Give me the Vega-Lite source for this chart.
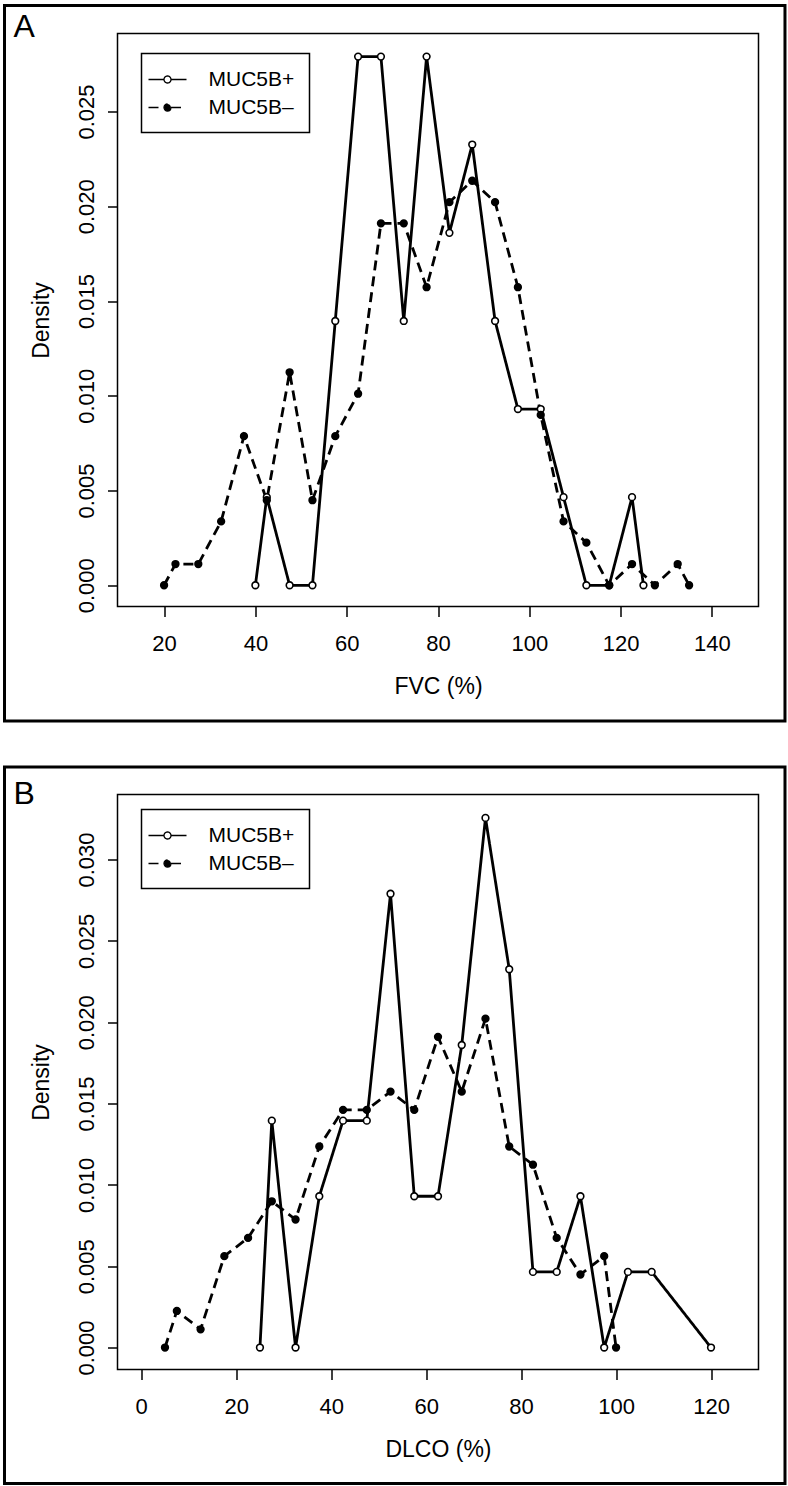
{
  "$schema": "https://vega.github.io/schema/vega-lite/v6.json",
  "background": "white",
  "padding": {"left": 1.5, "top": 2.5, "right": 2, "bottom": 2},
  "autosize": {"type": "pad"},
  "bounds": "flush",
  "spacing": 188,
  "datasets": {
    "fvc": [
      {"pct": 40, "density": 0, "series": "MUC5B+"},
      {"pct": 42.5, "density": 0.00465, "series": "MUC5B+"},
      {"pct": 47.5, "density": 0, "series": "MUC5B+"},
      {"pct": 52.5, "density": 0, "series": "MUC5B+"},
      {"pct": 57.5, "density": 0.01395, "series": "MUC5B+"},
      {"pct": 62.5, "density": 0.0279, "series": "MUC5B+"},
      {"pct": 67.5, "density": 0.0279, "series": "MUC5B+"},
      {"pct": 72.5, "density": 0.01395, "series": "MUC5B+"},
      {"pct": 77.5, "density": 0.0279, "series": "MUC5B+"},
      {"pct": 82.5, "density": 0.0186, "series": "MUC5B+"},
      {"pct": 87.5, "density": 0.02326, "series": "MUC5B+"},
      {"pct": 92.5, "density": 0.01395, "series": "MUC5B+"},
      {"pct": 97.5, "density": 0.0093, "series": "MUC5B+"},
      {"pct": 102.5, "density": 0.0093, "series": "MUC5B+"},
      {"pct": 107.5, "density": 0.00465, "series": "MUC5B+"},
      {"pct": 112.5, "density": 0, "series": "MUC5B+"},
      {"pct": 117.5, "density": 0, "series": "MUC5B+"},
      {"pct": 122.5, "density": 0.00465, "series": "MUC5B+"},
      {"pct": 125, "density": 0, "series": "MUC5B+"},
      {"pct": 20, "density": 0, "series": "MUC5B–"},
      {"pct": 22.5, "density": 0.00112, "series": "MUC5B–"},
      {"pct": 27.5, "density": 0.00112, "series": "MUC5B–"},
      {"pct": 32.5, "density": 0.00337, "series": "MUC5B–"},
      {"pct": 37.5, "density": 0.00787, "series": "MUC5B–"},
      {"pct": 42.5, "density": 0.00449, "series": "MUC5B–"},
      {"pct": 47.5, "density": 0.01124, "series": "MUC5B–"},
      {"pct": 52.5, "density": 0.00449, "series": "MUC5B–"},
      {"pct": 57.5, "density": 0.00787, "series": "MUC5B–"},
      {"pct": 62.5, "density": 0.01011, "series": "MUC5B–"},
      {"pct": 67.5, "density": 0.0191, "series": "MUC5B–"},
      {"pct": 72.5, "density": 0.0191, "series": "MUC5B–"},
      {"pct": 77.5, "density": 0.01573, "series": "MUC5B–"},
      {"pct": 82.5, "density": 0.02022, "series": "MUC5B–"},
      {"pct": 87.5, "density": 0.02135, "series": "MUC5B–"},
      {"pct": 92.5, "density": 0.02022, "series": "MUC5B–"},
      {"pct": 97.5, "density": 0.01573, "series": "MUC5B–"},
      {"pct": 102.5, "density": 0.00899, "series": "MUC5B–"},
      {"pct": 107.5, "density": 0.00337, "series": "MUC5B–"},
      {"pct": 112.5, "density": 0.00225, "series": "MUC5B–"},
      {"pct": 117.5, "density": 0, "series": "MUC5B–"},
      {"pct": 122.5, "density": 0.00112, "series": "MUC5B–"},
      {"pct": 127.5, "density": 0, "series": "MUC5B–"},
      {"pct": 132.5, "density": 0.00112, "series": "MUC5B–"},
      {"pct": 135, "density": 0, "series": "MUC5B–"}
    ],
    "dlco": [
      {"pct": 25, "density": 0, "series": "MUC5B+"},
      {"pct": 27.5, "density": 0.01395, "series": "MUC5B+"},
      {"pct": 32.5, "density": 0, "series": "MUC5B+"},
      {"pct": 37.5, "density": 0.0093, "series": "MUC5B+"},
      {"pct": 42.5, "density": 0.01395, "series": "MUC5B+"},
      {"pct": 47.5, "density": 0.01395, "series": "MUC5B+"},
      {"pct": 52.5, "density": 0.0279, "series": "MUC5B+"},
      {"pct": 57.5, "density": 0.0093, "series": "MUC5B+"},
      {"pct": 62.5, "density": 0.0093, "series": "MUC5B+"},
      {"pct": 67.5, "density": 0.0186, "series": "MUC5B+"},
      {"pct": 72.5, "density": 0.03256, "series": "MUC5B+"},
      {"pct": 77.5, "density": 0.02326, "series": "MUC5B+"},
      {"pct": 82.5, "density": 0.00465, "series": "MUC5B+"},
      {"pct": 87.5, "density": 0.00465, "series": "MUC5B+"},
      {"pct": 92.5, "density": 0.0093, "series": "MUC5B+"},
      {"pct": 97.5, "density": 0, "series": "MUC5B+"},
      {"pct": 102.5, "density": 0.00465, "series": "MUC5B+"},
      {"pct": 107.5, "density": 0.00465, "series": "MUC5B+"},
      {"pct": 120, "density": 0, "series": "MUC5B+"},
      {"pct": 5, "density": 0, "series": "MUC5B–"},
      {"pct": 7.5, "density": 0.00225, "series": "MUC5B–"},
      {"pct": 12.5, "density": 0.00112, "series": "MUC5B–"},
      {"pct": 17.5, "density": 0.00562, "series": "MUC5B–"},
      {"pct": 22.5, "density": 0.00674, "series": "MUC5B–"},
      {"pct": 27.5, "density": 0.00899, "series": "MUC5B–"},
      {"pct": 32.5, "density": 0.00787, "series": "MUC5B–"},
      {"pct": 37.5, "density": 0.01236, "series": "MUC5B–"},
      {"pct": 42.5, "density": 0.01461, "series": "MUC5B–"},
      {"pct": 47.5, "density": 0.01461, "series": "MUC5B–"},
      {"pct": 52.5, "density": 0.01573, "series": "MUC5B–"},
      {"pct": 57.5, "density": 0.01461, "series": "MUC5B–"},
      {"pct": 62.5, "density": 0.0191, "series": "MUC5B–"},
      {"pct": 67.5, "density": 0.01573, "series": "MUC5B–"},
      {"pct": 72.5, "density": 0.02022, "series": "MUC5B–"},
      {"pct": 77.5, "density": 0.01236, "series": "MUC5B–"},
      {"pct": 82.5, "density": 0.01124, "series": "MUC5B–"},
      {"pct": 87.5, "density": 0.00674, "series": "MUC5B–"},
      {"pct": 92.5, "density": 0.00449, "series": "MUC5B–"},
      {"pct": 97.5, "density": 0.00562, "series": "MUC5B–"},
      {"pct": 100, "density": 0, "series": "MUC5B–"}
    ],
    "one": [{"k": 1}]
  },
  "vconcat": [
    {
      "width": 641,
      "height": 573,
      "layer": [
        {
          "data": {"name": "one"},
          "mark": {"type": "rect", "stroke": "black", "strokeWidth": 3, "fillOpacity": 0, "fill": "white", "clip": false},
          "encoding": {
            "x": {"datum": -14.95, "type": "quantitative", "scale": {"domain": [9.8, 150.2], "nice": false, "zero": false}},
            "x2": {"datum": 156.0},
            "y": {"datum": 0.0306, "type": "quantitative", "scale": {"domain": [-0.00112, 0.02912], "nice": false, "zero": false}},
            "y2": {"datum": -0.00716}
          }
        },
        {
          "data": {"name": "one"},
          "mark": {"type": "text", "text": "A", "font": "Liberation Sans", "fontSize": 32, "align": "left", "baseline": "alphabetic", "color": "black", "clip": false},
          "encoding": {
            "x": {"datum": -12.98, "type": "quantitative"},
            "y": {"datum": 0.02891, "type": "quantitative"}
          }
        },
        {
          "data": {"name": "fvc"},
          "mark": {"type": "line", "color": "black", "strokeWidth": 2.8},
          "encoding": {
            "x": {"field": "pct", "type": "quantitative", "title": "FVC (%)",
                  "axis": {"values": [20, 40, 60, 80, 100, 120, 140], "labelBaseline": "top", "labelAlign": "center"}},
            "y": {"field": "density", "type": "quantitative", "title": "Density",
                  "axis": {"values": [0, 0.005, 0.01, 0.015, 0.02, 0.025], "format": ".3f", "labelAngle": -90, "labelAlign": "center", "labelBaseline": "alphabetic"}},
            "strokeDash": {"field": "series", "type": "nominal",
              "scale": {"domain": ["MUC5B+", "MUC5B–"], "range": [[1, 0], [10, 6]]},
              "legend": {"title": null, "orient": "none", "legendX": 24, "legendY": 20,
                "strokeColor": "black", "fillColor": "white", "padding": 15,
                "symbolType": "M-1.9,0H-0.35M0.35,0H1.9M-0.35,0A0.35,0.35,0,1,0,0.35,0A0.35,0.35,0,1,0,-0.35,0Z",
                "symbolSize": 400, "symbolStrokeColor": "black", "symbolStrokeWidth": 1.3,
                "labelFont": "Liberation Sans", "labelFontSize": 21, "labelColor": "black",
                "labelOffset": 30, "rowPadding": 7,
                "encode": {
                  "legend": {"update": {"strokeWidth": {"value": 1.5}}},
                  "symbols": {"update": {
                    "shape": {"value": "M-1.9,0H-0.35M0.35,0H1.9M-0.35,0A0.35,0.35,0,1,0,0.35,0A0.35,0.35,0,1,0,-0.35,0Z"},
                    "size": {"value": 400},
                    "stroke": {"value": "black"},
                    "strokeWidth": {"value": 1.3},
                    "fill": {"signal": "datum.value === 'MUC5B+' ? 'white' : 'black'"},
                    "strokeDash": {"signal": "datum.value === 'MUC5B+' ? [1,0] : [3,3]"},
                    "opacity": {"value": 1}
                  }}
                }
              }
            }
          }
        },
        {
          "data": {"name": "fvc"},
          "mark": {"type": "point", "shape": "circle", "filled": true, "size": 45, "stroke": "black", "strokeWidth": 1.6, "opacity": 1},
          "encoding": {
            "x": {"field": "pct", "type": "quantitative"},
            "y": {"field": "density", "type": "quantitative"},
            "fill": {"field": "series", "type": "nominal", "scale": {"domain": ["MUC5B+", "MUC5B–"], "range": ["white", "black"]}, "legend": null}
          }
        }
      ]
    },
    {
      "width": 641,
      "height": 575,
      "layer": [
        {
          "data": {"name": "one"},
          "mark": {"type": "rect", "stroke": "black", "strokeWidth": 3, "fillOpacity": 0, "fill": "white", "clip": false},
          "encoding": {
            "x": {"datum": -28.8, "type": "quantitative", "scale": {"domain": [-5, 130], "nice": false, "zero": false}},
            "x2": {"datum": 135.58},
            "y": {"datum": 0.03569, "type": "quantitative", "scale": {"domain": [-0.00135, 0.034], "nice": false, "zero": false}},
            "y2": {"datum": -0.00836}
          }
        },
        {
          "data": {"name": "one"},
          "mark": {"type": "text", "text": "B", "font": "Liberation Sans", "fontSize": 32, "align": "left", "baseline": "alphabetic", "color": "black", "clip": false},
          "encoding": {
            "x": {"datum": -26.9, "type": "quantitative"},
            "y": {"datum": 0.03339, "type": "quantitative"}
          }
        },
        {
          "data": {"name": "dlco"},
          "mark": {"type": "line", "color": "black", "strokeWidth": 2.8},
          "encoding": {
            "x": {"field": "pct", "type": "quantitative", "title": "DLCO (%)",
                  "axis": {"values": [0, 20, 40, 60, 80, 100, 120], "labelBaseline": "top", "labelAlign": "center"}},
            "y": {"field": "density", "type": "quantitative", "title": "Density",
                  "axis": {"values": [0, 0.005, 0.01, 0.015, 0.02, 0.025, 0.03], "format": ".3f", "labelAngle": -90, "labelAlign": "center", "labelBaseline": "alphabetic"}},
            "strokeDash": {"field": "series", "type": "nominal",
              "scale": {"domain": ["MUC5B+", "MUC5B–"], "range": [[1, 0], [10, 6]]},
              "legend": {"title": null, "orient": "none", "legendX": 24, "legendY": 15,
                "strokeColor": "black", "fillColor": "white", "padding": 15,
                "symbolType": "M-1.9,0H-0.35M0.35,0H1.9M-0.35,0A0.35,0.35,0,1,0,0.35,0A0.35,0.35,0,1,0,-0.35,0Z",
                "symbolSize": 400, "symbolStrokeColor": "black", "symbolStrokeWidth": 1.3,
                "labelFont": "Liberation Sans", "labelFontSize": 21, "labelColor": "black",
                "labelOffset": 30, "rowPadding": 7,
                "encode": {
                  "legend": {"update": {"strokeWidth": {"value": 1.5}}},
                  "symbols": {"update": {
                    "shape": {"value": "M-1.9,0H-0.35M0.35,0H1.9M-0.35,0A0.35,0.35,0,1,0,0.35,0A0.35,0.35,0,1,0,-0.35,0Z"},
                    "size": {"value": 400},
                    "stroke": {"value": "black"},
                    "strokeWidth": {"value": 1.3},
                    "fill": {"signal": "datum.value === 'MUC5B+' ? 'white' : 'black'"},
                    "strokeDash": {"signal": "datum.value === 'MUC5B+' ? [1,0] : [3,3]"},
                    "opacity": {"value": 1}
                  }}
                }
              }
            }
          }
        },
        {
          "data": {"name": "dlco"},
          "mark": {"type": "point", "shape": "circle", "filled": true, "size": 45, "stroke": "black", "strokeWidth": 1.6, "opacity": 1},
          "encoding": {
            "x": {"field": "pct", "type": "quantitative"},
            "y": {"field": "density", "type": "quantitative"},
            "fill": {"field": "series", "type": "nominal", "scale": {"domain": ["MUC5B+", "MUC5B–"], "range": ["white", "black"]}, "legend": null}
          }
        }
      ]
    }
  ],
  "resolve": {"scale": {"strokeDash": "independent", "fill": "independent"}},
  "config": {
    "font": "Liberation Sans",
    "view": {"stroke": "black", "strokeWidth": 1.5},
    "axis": {
      "grid": false, "domain": false,
      "tickColor": "black", "tickWidth": 1.5, "tickSize": 10,
      "labelColor": "black", "labelFont": "Liberation Sans", "labelFontSize": 22,
      "labelOverlap": false, "labelFlush": false,
      "titleColor": "black", "titleFont": "Liberation Sans", "titleFontSize": 23, "titleFontWeight": "normal"
    },
    "axisX": {"labelPadding": 17, "titlePadding": 21},
    "axisY": {"labelPadding": 14, "titlePadding": 22}
  }
}
